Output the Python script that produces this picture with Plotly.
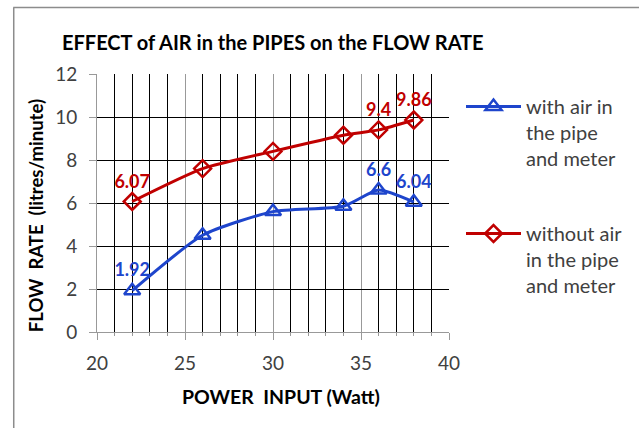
import plotly.graph_objects as go

power_w = [22, 26, 30, 34, 36, 38]
with_air = [1.92, 4.5, 5.6, 5.85, 6.6, 6.04]
without_air = [6.07, 7.6, 8.4, 9.15, 9.4, 9.86]
with_air_labels = ["1.92", "", "", "", "6.6", "6.04"]
without_air_labels = ["6.07", "", "", "", "9.4", "9.86"]
x_ticks = [20, 25, 30, 35, 40]
y_ticks = [0, 2, 4, 6, 8, 10, 12]

BLUE = "#1E45CC"
RED = "#C00000"
FONT = "Lato"

fig = go.Figure()
fig.add_trace(go.Scatter(
    x=power_w, y=with_air, mode="lines+markers+text",
    name="with air in<br>the pipe<br>and meter",
    legendgroup="a",
    line=dict(color=BLUE, width=3, shape="spline", smoothing=0.6),
    marker=dict(symbol="triangle-up-open", size=14, color=BLUE, line=dict(width=2.5, color=BLUE)),
    text=with_air_labels, textposition="top center",
    textfont=dict(family=FONT, size=18, color=BLUE, weight="bold"),
))
fig.add_trace(go.Scatter(
    x=power_w, y=without_air, mode="lines+markers+text",
    name="without air<br>in the pipe<br>and meter",
    legendgroup="b",
    line=dict(color=RED, width=3, shape="spline", smoothing=0.6),
    marker=dict(symbol="diamond-open", size=13, color=RED, line=dict(width=2.5, color=RED)),
    text=without_air_labels, textposition="top center",
    textfont=dict(family=FONT, size=18, color=RED, weight="bold"),
))

fig.update_layout(
    width=639, height=428,
    margin=dict(l=97, r=189, t=74, b=96),
    paper_bgcolor="white", plot_bgcolor="white",
    font=dict(family=FONT, size=19, color="#404040"),
    title=dict(text="<b>EFFECT of AIR in the PIPES on the FLOW RATE</b>",
               font=dict(family=FONT, size=20, color="#000000"),
               x=62 / 639, xref="container", xanchor="left",
               y=1 - 43 / 428, yref="container", yanchor="middle"),
    legend=dict(x=(461 - 97) / 353, y=(332 - 87) / 258, xanchor="left", yanchor="top",
                font=dict(family=FONT, size=20, color="#404040"),
                valign="top", itemwidth=55,
                traceorder="grouped", tracegroupgap=46, bgcolor="rgba(0,0,0,0)"),
    showlegend=True,
)
fig.update_xaxes(
    range=[20, 40], tickvals=x_ticks, showline=True, linecolor="#999999", linewidth=1,
    showgrid=True, gridcolor="#999999", gridwidth=1,
    ticks="outside", ticklen=7, tickcolor="#999999", ticklabelstandoff=7,
    minor=dict(dtick=1, showgrid=True, gridcolor="#000000", gridwidth=1,
               ticks="outside", ticklen=3, tickcolor="#999999"),
    zeroline=False, tickfont=dict(family=FONT, size=19, color="#404040"),
)
fig.update_yaxes(
    range=[0, 12], tickvals=y_ticks, showline=True, linecolor="#999999", linewidth=1,
    showgrid=True, gridcolor="#000000", gridwidth=1,
    ticks="outside", ticklen=7, tickcolor="#999999", ticklabelstandoff=8,
    zeroline=False, tickfont=dict(family=FONT, size=19, color="#404040"),
)
fig.add_annotation(text="<b>FLOW&nbsp; RATE&nbsp; (litres/minute)</b>", textangle=-90,
                   xref="paper", yref="paper", x=(36 - 97) / 353, y=(332 - 216) / 258,
                   xanchor="center", yanchor="middle",
                   showarrow=False, font=dict(family=FONT, size=18.5, color="#000000"))
fig.add_annotation(text="<b>POWER&nbsp; INPUT (Watt)</b>",
                   xref="paper", yref="paper", x=(282 - 97) / 353, y=(332 - 396) / 258,
                   xanchor="center", yanchor="middle",
                   showarrow=False, font=dict(family=FONT, size=19.5, color="#000000"))
# outer chart border (top and left visible)
fig.add_shape(type="line", xref="paper", yref="paper",
              x0=(13 - 97) / 353, x1=2, y0=(332 - 7.5) / 258, y1=(332 - 7.5) / 258,
              line=dict(color="#8C8C8C", width=1.5))
fig.add_shape(type="line", xref="paper", yref="paper",
              x0=(13.5 - 97) / 353, x1=(13.5 - 97) / 353, y0=(332 - 7.5) / 258, y1=-2,
              line=dict(color="#8C8C8C", width=1.5))

fig.write_html("out.html", config={"displayModeBar": False},
               post_script="document.body.style.margin='0px';")
